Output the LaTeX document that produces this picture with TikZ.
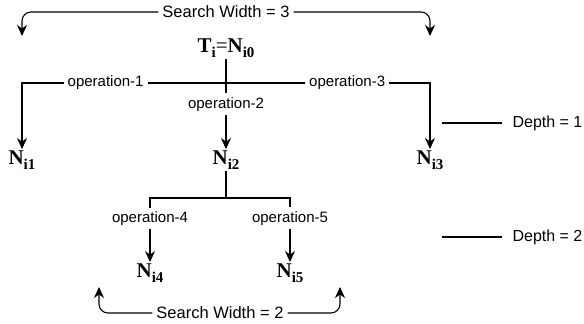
\documentclass[tikz,border=0pt]{standalone}
\usepackage{fontspec}
\setmainfont{Liberation Serif}
\setsansfont{Liberation Sans}
\usetikzlibrary{arrows.meta}

\newcommand{\nsub}[2]{\textbf{#1\raisebox{-5pt}{\fontsize{15}{15}\selectfont #2}}}

\begin{document}
\begin{tikzpicture}[x=1pt, y=-1pt,
	tree/.style={font=\fontsize{21}{21}\selectfont, inner sep=1pt},
	oplabel/.style={font=\sffamily\fontsize{15}{15}\selectfont, fill=white, inner sep=4pt},
	swlabel/.style={font=\sffamily\fontsize{16.5}{16.5}\selectfont, inner sep=3.5pt},
	depthlabel/.style={font=\sffamily\fontsize{16}{16}\selectfont, inner sep=0pt, anchor=west},
	arr/.style={-{Stealth[length=11pt,width=10pt,inset=3.5pt]}},
	every path/.style={line width=1.1pt}]
	\useasboundingbox (0,0) rectangle (584,324);
	% nodes of the tree
	\node[tree] (root) at (226,48) {\nsub{T}{i}=\nsub{N}{i0}};
	\node[tree] (n1) at (22,160) {\nsub{N}{i1}};
	\node[tree] (n2) at (226,160) {\nsub{N}{i2}};
	\node[tree] (n3) at (430,160) {\nsub{N}{i3}};
	\node[tree] (n4) at (150,273) {\nsub{N}{i4}};
	\node[tree] (n5) at (290,273) {\nsub{N}{i5}};
	\coordinate (fork1) at (226,83);
	\coordinate (fork2) at (226,198);
	% depth one
	\draw (root) -- (fork1);
	\draw[arr] (fork1) -| node[oplabel, pos=0.295] {operation-1} (n1);
	\draw[arr] (fork1) -- node[oplabel, pos=0.32] {operation-2} (n2);
	\draw[arr] (fork1) -| node[oplabel, pos=0.297] {operation-3} (n3);
	% depth two
	\draw (n2) -- (fork2);
	\draw[arr] (fork2) -| node[oplabel, pos=0.66] {operation-4} (n4);
	\draw[arr] (fork2) -| node[oplabel, pos=0.66] {operation-5} (n5);
	% search widths
	\node[swlabel] (sw3) at (226,12) {Search Width = 3};
	\coordinate (sw3l) at (22,36);
	\coordinate (sw3r) at (430,36);
	\draw[arr, rounded corners=9pt] (sw3) -| (sw3l);
	\draw[arr, rounded corners=9pt] (sw3) -| (sw3r);
	\node[swlabel] (sw2) at (220,313) {Search Width = 2};
	\coordinate (sw2l) at (99,287);
	\coordinate (sw2r) at (340,287);
	\draw[arr, rounded corners=9pt] (sw2) -| (sw2l);
	\draw[arr, rounded corners=9pt] (sw2) -| (sw2r);
	% depth marks
	\node[depthlabel] (d1) at (512,123) {Depth = 1};
	\node[depthlabel] (d2) at (512,237) {Depth = 2};
	\coordinate (d1s) at (442,123);
	\coordinate (d2s) at (442,237);
	\draw (d1s) -- ([xshift=-10pt]d1.west);
	\draw (d2s) -- ([xshift=-10pt]d2.west);
\end{tikzpicture}
\end{document}
